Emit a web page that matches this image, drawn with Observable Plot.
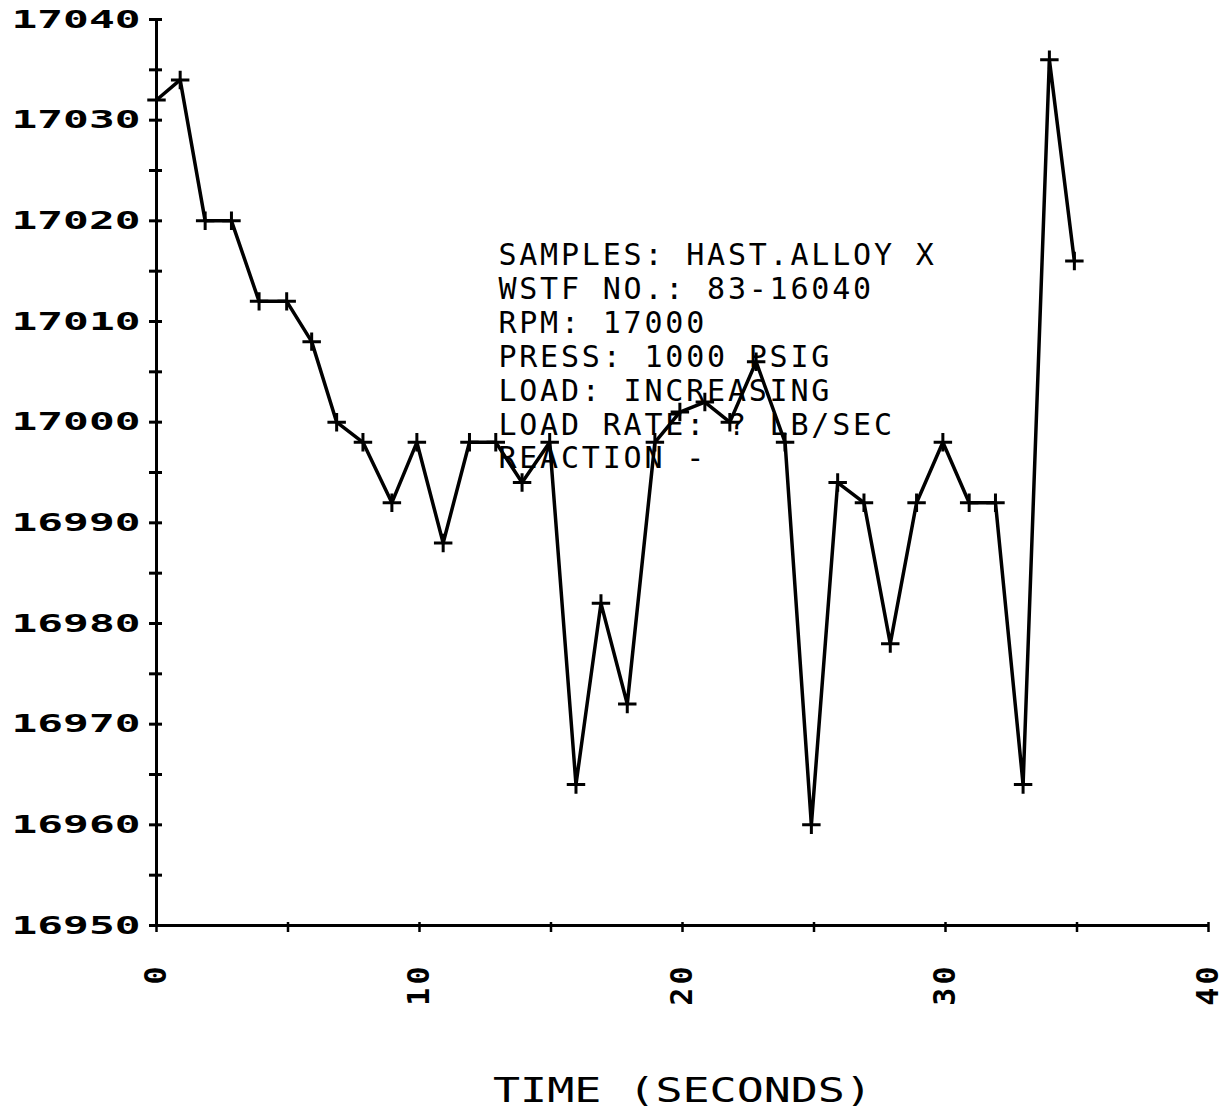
<!DOCTYPE html>
<html>
<head>
<meta charset="utf-8">
<script src="https://cdn.jsdelivr.net/npm/d3@7"></script>
<script src="https://cdn.jsdelivr.net/npm/@observablehq/plot@0.6"></script>
<style>
  html, body { margin: 0; padding: 0; background: #fff; }
  #chart svg { display: block; }
</style>
</head>
<body>
<div id="chart"></div>
<script>
// Sample times (seconds) and measured speed (RPM)
const times = [0, 0.9, 1.85, 2.85, 3.9, 4.95, 5.9, 6.85, 7.85, 8.95, 9.9, 10.9, 11.9, 12.9, 13.9, 14.95,
  15.95, 16.9, 17.9, 18.95, 19.9, 20.85, 21.8, 22.8, 23.9, 24.9, 25.9, 26.9, 27.9, 28.9, 29.9, 30.9,
  31.9, 32.95, 33.95, 34.9];
const rpm = [17032, 17034, 17020, 17020, 17012, 17012, 17008, 17000, 16998, 16992, 16998, 16988, 16998, 16998, 16994, 16998,
  16964, 16982, 16972, 16998, 17001, 17002, 17000, 17006, 16998, 16960, 16994, 16992, 16978, 16992, 16998, 16992,
  16992, 16964, 17036, 17016];
const yTickLabels = [16950, 16960, 16970, 16980, 16990, 17000, 17010, 17020, 17030, 17040];
const yMinorTicks = [16955, 16965, 16975, 16985, 16995, 17005, 17015, 17025, 17035];
const xTickLabels = [0, 10, 20, 30, 40];
const xMinorTicks = [5, 15, 25, 35];
const xTitle = "TIME (SECONDS)";
const annotationLines = [
  "SAMPLES: HAST.ALLOY X",
  "WSTF NO.: 83-16040",
  "RPM: 17000",
  "PRESS: 1000 PSIG",
  "LOAD: INCREASING",
  "LOAD RATE: ? LB/SEC",
  "REACTION -"
];

const data = times.map((t, i) => ({t, rpm: rpm[i]}));
const allY = [...yTickLabels, ...yMinorTicks];
const allX = [...xTickLabels, ...xMinorTicks];

const chart = Plot.plot({
  width: 1232,
  height: 1114,
  marginLeft: 156,
  marginRight: 24,
  marginTop: 19,
  marginBottom: 189,
  style: {fontFamily: "DejaVu Sans Mono", background: "#fff", color: "#000"},
  x: {domain: [0, 40]},
  y: {domain: [16950, 17040]},
  marks: [
    Plot.ruleX([0], {strokeWidth: 3}),
    Plot.ruleY([16950], {strokeWidth: 3}),
    // outward ticks with labels
    Plot.axisY({ticks: yTickLabels, tickSize: 7, tickPadding: 9, tickFormat: d => String(d),
      fontSize: 25, fontWeight: "bold", label: null, strokeWidth: 3}),
    Plot.axisY({ticks: yMinorTicks, tickSize: 7, tickFormat: () => "", label: null, strokeWidth: 3}),
    // inward half of crossing ticks
    Plot.axisY({ticks: allY, tickSize: -6, tickFormat: () => "", label: null, strokeWidth: 3}),
    Plot.axisX({ticks: allX, tickSize: 7, tickFormat: () => "", label: null, strokeWidth: 2.5}),
    Plot.axisX({ticks: allX, tickSize: -3, tickFormat: () => "", label: null, strokeWidth: 2.5}),
    Plot.axisX({ticks: xTickLabels, tickSize: 0, tickPadding: 38, tickRotate: -90, tickFormat: d => String(d),
      fontSize: 30, fontWeight: "bold", label: null}),
    Plot.axisX({ticks: [], tickSize: 0, tickFormat: () => "", fontSize: 34, fontWeight: "normal",
      label: xTitle, labelAnchor: "center", labelArrow: "none", labelOffset: 176}),
    Plot.line(data, {x: "t", y: "rpm", stroke: "#000", strokeWidth: 3.5}),
    Plot.dot(data, {x: "t", y: "rpm", symbol: "plus", r: 6, stroke: "#000", strokeWidth: 3}),
    Plot.text([annotationLines.join("\n")], {x: 13, y: 17018, text: d => d, textAnchor: "start",
      lineAnchor: "top", lineHeight: 1.13, fontSize: 30, fill: "#000"})
  ]
});

document.getElementById("chart").appendChild(chart);

// Stretch plotter-style lettering
chart.querySelectorAll('g[aria-label="y-axis tick label"] text').forEach(t => {
  if (t.textContent.trim() !== "") {
    t.setAttribute("textLength", 129);
    t.setAttribute("lengthAdjust", "spacingAndGlyphs");
  }
});
chart.querySelectorAll('g[aria-label="x-axis tick label"] text').forEach(t => {
  t.setAttribute("letter-spacing", "3");
});
chart.querySelectorAll('g[aria-label="x-axis label"] text').forEach(t => {
  t.setAttribute("font-size", 34);
  t.setAttribute("font-weight", "normal");
  t.setAttribute("textLength", 379);
  t.setAttribute("lengthAdjust", "spacingAndGlyphs");
});
chart.querySelectorAll('g[aria-label="x-axis label"]').forEach(g => {
  g.setAttribute("font-weight", "normal");
  g.setAttribute("font-size", 34);
});
chart.querySelectorAll('g[aria-label="text"] text').forEach(t => {
  t.setAttribute("letter-spacing", "2.8");
});
</script>
</body>
</html>
